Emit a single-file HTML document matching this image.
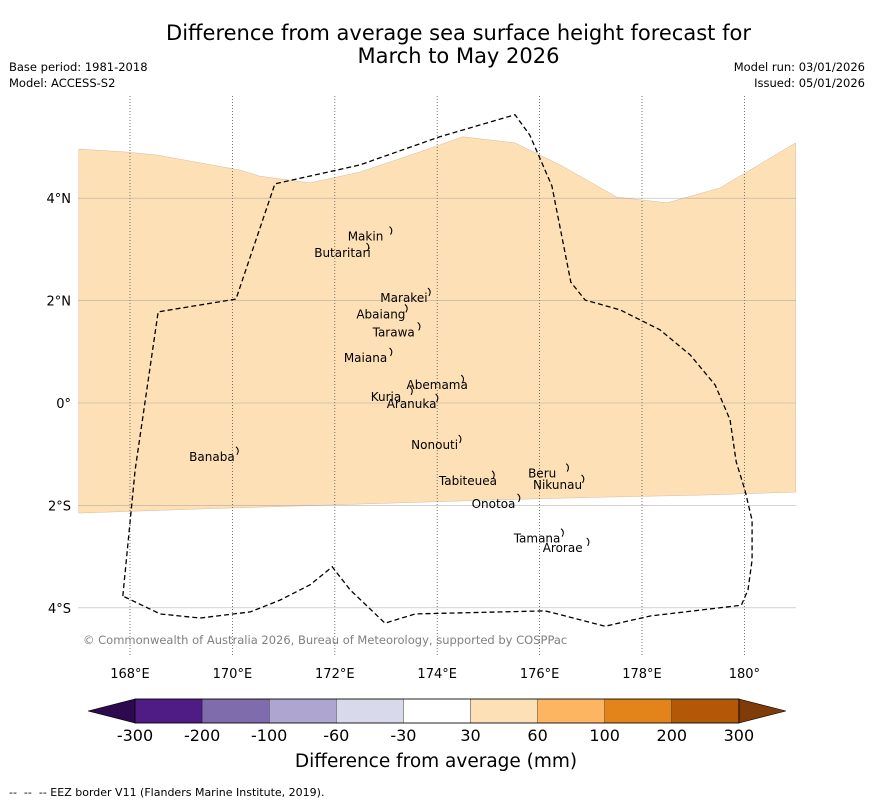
<!DOCTYPE html>
<html><head><meta charset="utf-8">
<style>
body{margin:0;background:#fff;font-family:"Liberation Sans","DejaVu Sans",sans-serif;}
#wrap{position:relative;width:873px;height:804px;overflow:hidden;}
.t{position:absolute;white-space:nowrap;}
</style></head><body>
<div id="wrap">
<div class="t" style="left:0;width:917px;top:22px;text-align:center;font-size:21px;line-height:23px;font-family:'DejaVu Sans',sans-serif;">Difference from average sea surface height forecast for<br>March to May 2026</div>
<div class="t" style="left:9px;top:59px;font-size:11.5px;line-height:16px;font-family:'DejaVu Sans',sans-serif;">Base period: 1981-2018<br>Model: ACCESS-S2</div>
<div class="t" style="right:8px;top:59px;font-size:11.5px;line-height:16px;text-align:right;font-family:'DejaVu Sans',sans-serif;">Model run: 03/01/2026<br>Issued: 05/01/2026</div>
<svg id="map" width="873" height="804" style="position:absolute;left:0;top:0"></svg>
<div class="t" style="left:9px;top:786px;font-size:11px;font-family:'DejaVu Sans',sans-serif;">-- &nbsp;-- &nbsp;-- EEZ border V11 (Flanders Marine Institute, 2019).</div>
</div>
<script>
const lonTicks=[168,170,172,174,176,178,180];
const lonLabels=["168°E","170°E","172°E","174°E","176°E","178°E","180°"];
const latTicks=[4,2,0,-2,-4];
const latLabels=["4°N","2°N","0°","2°S","4°S"];
const fillTopLon=[167.0,167.96,168.55,169.37,170.15,170.54,171.52,172.49,173.47,174.05,174.5,175.52,176.4,177.51,178.49,179.52,181.0];
const fillTopLat=[4.96,4.9,4.84,4.69,4.55,4.43,4.3,4.51,4.84,5.04,5.2,5.08,4.65,4.02,3.91,4.2,5.08];
const fillBotLon=[181,179.13,177.18,175.23,173.27,171.32,169.37,167];
const fillBotLat=[-1.74,-1.8,-1.84,-1.89,-1.95,-2.01,-2.07,-2.15];
const eezLon=[167.86,168.1,168.55,170.07,170.83,172.49,174.05,175.52,175.81,176.24,176.61,176.89,177.57,178.35,178.94,179.43,179.72,179.84,180.01,180.15,180.15,180.07,179.94,178.16,177.28,176.11,173.57,172.98,172.3,171.95,171.52,170.93,170.35,169.37,168.59,167.86];
const eezLat=[-3.77,-1.31,1.78,2.03,4.28,4.65,5.2,5.63,5.23,4.24,2.36,2.01,1.82,1.43,0.94,0.35,-0.33,-1.15,-1.7,-2.29,-3.07,-3.65,-3.95,-4.16,-4.36,-4.06,-4.12,-4.3,-3.65,-3.2,-3.55,-3.85,-4.08,-4.2,-4.12,-3.77];
const places=["Makin","Butaritari","Marakei","Abaiang","Tarawa","Maiana","Abemama","Kuria","Aranuka","Nonouti","Banaba","Beru","Nikunau","Tabiteuea","Onotoa","Tamana","Arorae"];
const placeLon=[172.6,172.15,173.35,172.9,173.15,172.6,174.0,173.0,173.5,173.95,169.6,176.05,176.35,174.6,175.1,175.95,176.45];
const placeLat=[3.25,2.93,2.05,1.73,1.38,0.88,0.35,0.12,-0.02,-0.82,-1.05,-1.38,-1.6,-1.52,-1.97,-2.65,-2.83];
const cbLabels=["-300","-200","-100","-60","-30","30","60","100","200","300"];
const cbColors=["#4f1c86","#7e6cad","#aea6d1","#d8d9eb","#ffffff","#fee0b6","#fdb562","#e2841a","#b35806"];

const X=lon=>130+(lon-168)*51.2;
const Y=lat=>403-lat*51.2;
const svg=document.getElementById('map');
const NS='http://www.w3.org/2000/svg';
function mk(tag,attrs){const e=document.createElementNS(NS,tag);for(const k in attrs)e.setAttribute(k,attrs[k]);svg.appendChild(e);return e;}

let pts=[];
fillTopLon.forEach((l,i)=>pts.push(X(l)+','+Y(fillTopLat[i])));
fillBotLon.forEach((l,i)=>pts.push(X(l)+','+Y(fillBotLat[i])));
const fill=mk('polygon',{points:pts.join(' '),fill:'#fee0b6',stroke:'#c8b090','stroke-width':0.4});



lonTicks.forEach((l,i)=>{
  const g=mk('line',{x1:X(l),x2:X(l),y1:96,y2:655,stroke:'#555','stroke-width':0.8,'stroke-dasharray':'1,2'});
  
  
  const t=mk('text',{x:X(l),y:678,'text-anchor':'middle','font-size':13,'font-family':'DejaVu Sans, sans-serif'});
  t.textContent=lonLabels[i];
  
  
});
latTicks.forEach((l,i)=>{
  const g=mk('line',{x1:78,x2:796,y1:Y(l),y2:Y(l),stroke:'#999','stroke-width':0.6,'stroke-opacity':0.7});
  
  
  const t=mk('text',{x:71,y:Y(l)+5,'text-anchor':'end','font-size':13,'font-family':'DejaVu Sans, sans-serif'});
  t.textContent=latLabels[i];
  
  
});

const ez=mk('polyline',{points:eezLon.map((l,i)=>X(l)+','+Y(eezLat[i])).join(' '),fill:'none',stroke:'#000','stroke-width':1.3,'stroke-dasharray':'5,3'});



places.forEach((p,i)=>{
  const d=mk('path',{d:`M${X(placeLon[i])+24},${Y(placeLat[i])-10} q4,3 1,8`,stroke:'#000','stroke-width':1,fill:'none'});
  
  
  const t=mk('text',{x:X(placeLon[i]),y:Y(placeLat[i])+4,'text-anchor':'middle','font-size':12,'font-family':'DejaVu Sans, sans-serif'});
  t.textContent=p;
  
  
});

const cp=mk('text',{x:83,y:644,'font-size':11.5,fill:'#808080','font-family':'DejaVu Sans, sans-serif'});
cp.textContent='© Commonwealth of Australia 2026, Bureau of Meteorology, supported by COSPPac';



const cx0=135,cw=67.1,cy=699,ch=24;
const lt=mk('polygon',{points:`88,711 ${cx0},${cy} ${cx0},${cy+ch}`,fill:'#2d0a4e',stroke:'#000','stroke-width':0.6});


cbColors.forEach((c,i)=>{
  const r=mk('rect',{x:cx0+i*cw,y:cy,width:cw,height:ch,fill:c,stroke:'#000','stroke-width':0.3});
  
  
});
const ex=cx0+cbColors.length*cw;
const rt=mk('polygon',{points:`${ex},${cy} 786,711 ${ex},${cy+ch}`,fill:'#7f3b08',stroke:'#000','stroke-width':0.6});


const fr=mk('rect',{x:cx0,y:cy,width:ex-cx0,height:ch,fill:'none',stroke:'#000','stroke-width':0.8});


cbLabels.forEach((s,i)=>{
  const t=mk('text',{x:cx0+i*cw,y:741,'text-anchor':'middle','font-size':16,'font-family':'DejaVu Sans, sans-serif'});
  t.textContent=s;
  
  
});
const ct=mk('text',{x:436,y:767,'text-anchor':'middle','font-size':18.5,'font-family':'DejaVu Sans, sans-serif'});
ct.textContent='Difference from average (mm)';


</script>
</body></html>
